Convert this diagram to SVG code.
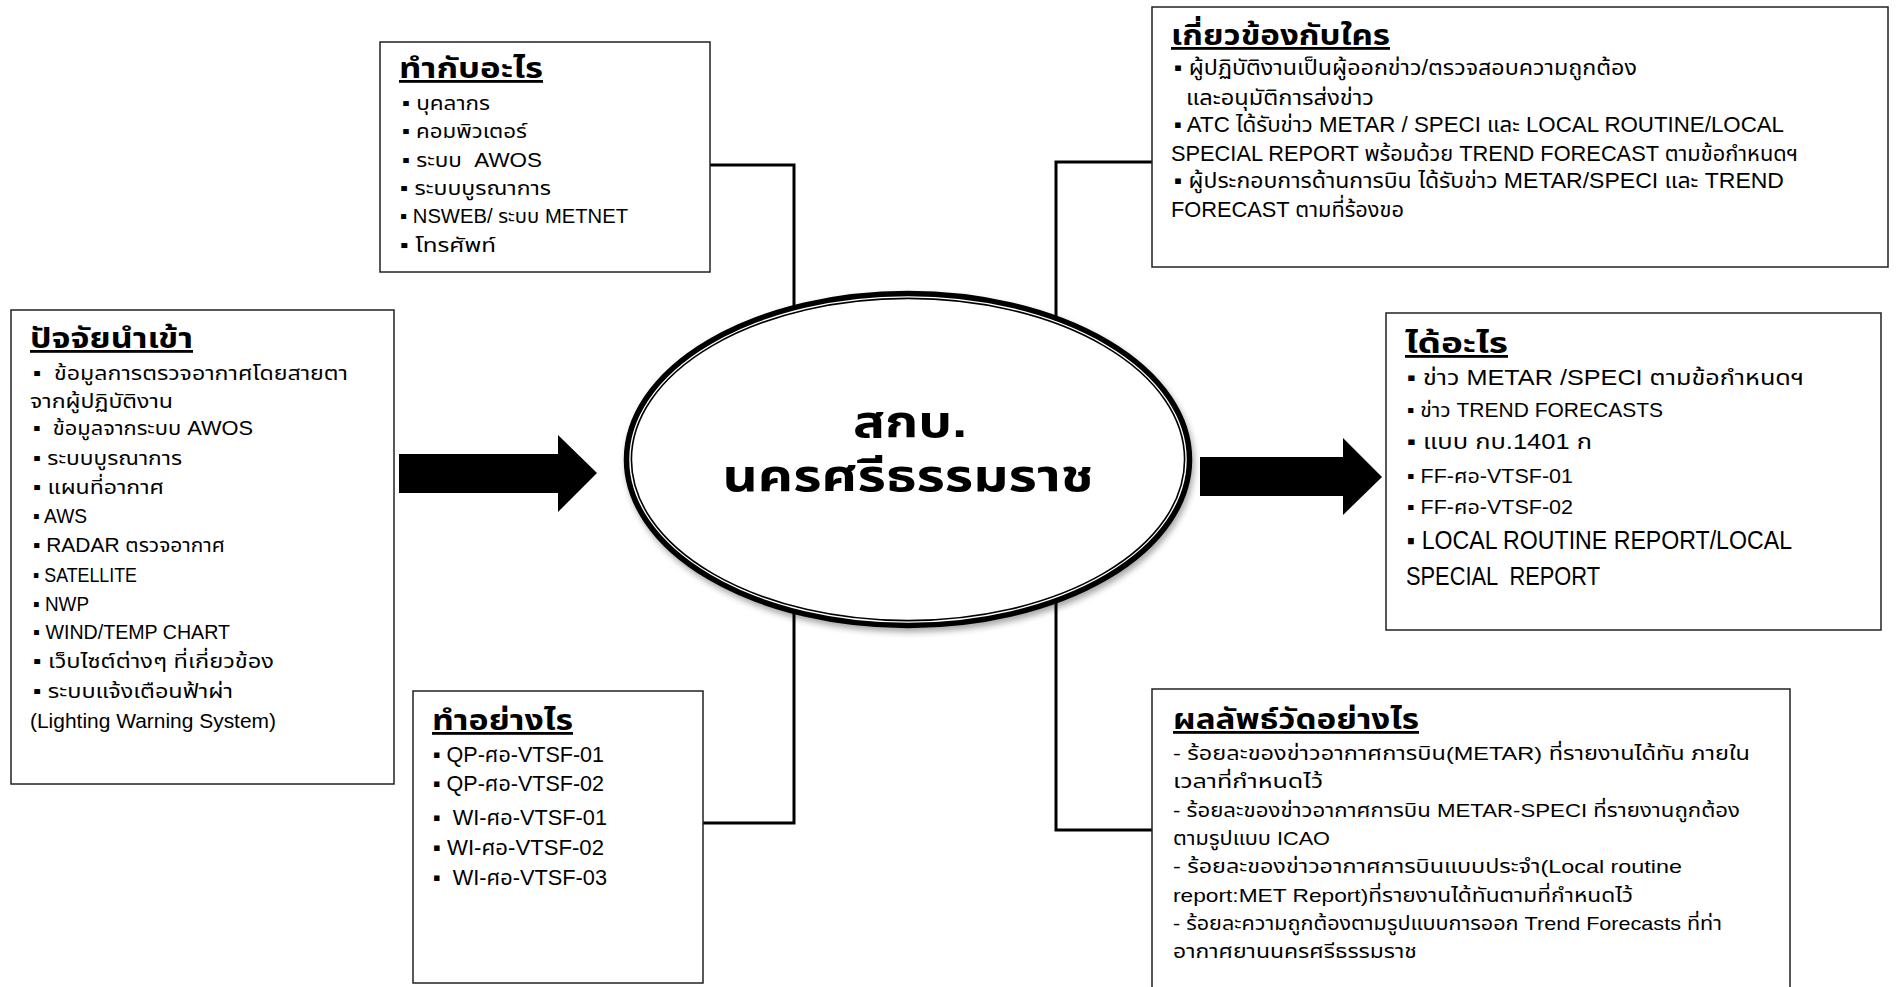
<svg xmlns="http://www.w3.org/2000/svg" width="1896" height="987" viewBox="0 0 1896 987">
<style>
.box{fill:#fff;stroke:#222;stroke-width:1.5}
text{font-family:"Liberation Sans","Noto Sans Thai","Noto Sans",sans-serif;fill:#000}
.t{font-weight:bold;font-size:28px;text-decoration:underline}
.s20{font-size:20px}
.s22{font-size:22px}
.s19{font-size:19px}
.s24{font-size:24px}
.s25{font-size:25px}
.ctr{font-weight:bold;font-size:44px;text-anchor:middle}
.con{fill:none;stroke:#000;stroke-width:3}
</style>
<defs>
<filter id="sh" x="-10%" y="-10%" width="120%" height="125%">
<feDropShadow dx="2" dy="4" stdDeviation="3" flood-color="#000" flood-opacity="0.35"/>
</filter>
</defs>
<rect width="1896" height="987" fill="#fff"/>
<g id="connectors">
<polyline class="con" points="710,165 794,165 794,400"/>
<polyline class="con" points="1152,162 1056,162 1056,400"/>
<polyline class="con" points="703,823 794,823 794,520"/>
<polyline class="con" points="1152,830 1056,830 1056,520"/>
<polygon points="399,454 558,454 558,435 597,473 558,512 558,493 399,493" fill="#000"/>
<polygon points="1200,457 1343,457 1343,438 1382,477 1343,515 1343,496 1200,496" fill="#000"/>
</g>
<g id="center">
<ellipse cx="908" cy="459.5" rx="281.5" ry="166" fill="#fff" stroke="#000" stroke-width="5.5" filter="url(#sh)"/>
<ellipse cx="908" cy="459.5" rx="276.6" ry="161.1" fill="none" stroke="#000" stroke-width="1.6"/>
<text class="ctr" x="910" y="437" textLength="114" lengthAdjust="spacingAndGlyphs">สกบ.</text>
<text class="ctr" x="908" y="491" textLength="371" lengthAdjust="spacingAndGlyphs">นครศรีธรรมราช</text>
</g>
<g id="n-what-with">
<rect class="box" x="380" y="42" width="330" height="230"/>
<text class="t" x="399" y="78" textLength="144" lengthAdjust="spacingAndGlyphs">ทำกับอะไร</text>
<text class="s20" x="402" y="110" textLength="88" lengthAdjust="spacingAndGlyphs">▪ บุคลากร</text>
<text class="s20" x="402" y="138" textLength="125" lengthAdjust="spacingAndGlyphs">▪ คอมพิวเตอร์</text>
<text class="s20" x="402" y="167" textLength="140" lengthAdjust="spacingAndGlyphs" xml:space="preserve">▪ ระบบ  AWOS</text>
<text class="s20" x="400" y="195" textLength="151" lengthAdjust="spacingAndGlyphs">▪ ระบบบูรณาการ</text>
<text class="s20" x="400" y="223" textLength="228" lengthAdjust="spacingAndGlyphs">▪ NSWEB/ ระบบ METNET</text>
<text class="s20" x="400" y="252" textLength="96" lengthAdjust="spacingAndGlyphs">▪ โทรศัพท์</text>
</g>
<g id="n-who">
<rect class="box" x="1152" y="7" width="736" height="260"/>
<text class="t" x="1171" y="45" textLength="219" lengthAdjust="spacingAndGlyphs">เกี่ยวข้องกับใคร</text>
<text class="s22" x="1174" y="75" textLength="463" lengthAdjust="spacingAndGlyphs">▪ ผู้ปฏิบัติงานเป็นผู้ออกข่าว/ตรวจสอบความถูกต้อง</text>
<text class="s22" x="1186" y="105" textLength="188" lengthAdjust="spacingAndGlyphs">และอนุมัติการส่งข่าว</text>
<text class="s22" x="1174" y="132" textLength="610" lengthAdjust="spacingAndGlyphs">▪ ATC ได้รับข่าว METAR / SPECI และ LOCAL ROUTINE/LOCAL</text>
<text class="s22" x="1171" y="161" textLength="627" lengthAdjust="spacingAndGlyphs">SPECIAL REPORT พร้อมด้วย TREND FORECAST ตามข้อกำหนดฯ</text>
<text class="s22" x="1174" y="188" textLength="610" lengthAdjust="spacingAndGlyphs">▪ ผู้ประกอบการด้านการบิน ได้รับข่าว METAR/SPECI และ TREND</text>
<text class="s22" x="1171" y="217" textLength="233" lengthAdjust="spacingAndGlyphs">FORECAST ตามที่ร้องขอ</text>
</g>
<g id="n-input">
<rect class="box" x="11" y="310" width="383" height="474"/>
<text class="t" x="30" y="348" textLength="163" lengthAdjust="spacingAndGlyphs">ปัจจัยนำเข้า</text>
<text class="s20" x="33" y="380" textLength="315" lengthAdjust="spacingAndGlyphs" xml:space="preserve">▪  ข้อมูลการตรวจอากาศโดยสายตา</text>
<text class="s20" x="30" y="408" textLength="143" lengthAdjust="spacingAndGlyphs">จากผู้ปฏิบัติงาน</text>
<text class="s20" x="33" y="435" textLength="220" lengthAdjust="spacingAndGlyphs" xml:space="preserve">▪  ข้อมูลจากระบบ AWOS</text>
<text class="s20" x="33" y="465" textLength="149" lengthAdjust="spacingAndGlyphs">▪ ระบบบูรณาการ</text>
<text class="s20" x="33" y="494" textLength="131" lengthAdjust="spacingAndGlyphs">▪ แผนที่อากาศ</text>
<text class="s20" x="33" y="523" textLength="54" lengthAdjust="spacingAndGlyphs">▪ AWS</text>
<text class="s20" x="33" y="552" textLength="192" lengthAdjust="spacingAndGlyphs">▪ RADAR ตรวจอากาศ</text>
<text class="s20" x="33" y="582" textLength="104" lengthAdjust="spacingAndGlyphs">▪ SATELLITE</text>
<text class="s20" x="33" y="611" textLength="56" lengthAdjust="spacingAndGlyphs">▪ NWP</text>
<text class="s20" x="33" y="639" textLength="197" lengthAdjust="spacingAndGlyphs">▪ WIND/TEMP CHART</text>
<text class="s20" x="33" y="668" textLength="241" lengthAdjust="spacingAndGlyphs">▪ เว็บไซต์ต่างๆ ที่เกี่ยวข้อง</text>
<text class="s20" x="33" y="698" textLength="200" lengthAdjust="spacingAndGlyphs">▪ ระบบแจ้งเตือนฟ้าผ่า</text>
<text class="s20" x="30" y="728" textLength="246" lengthAdjust="spacingAndGlyphs">(Lighting Warning System)</text>
</g>
<g id="n-how">
<rect class="box" x="413" y="691" width="290" height="292"/>
<text class="t" x="432" y="730" textLength="141" lengthAdjust="spacingAndGlyphs">ทำอย่างไร</text>
<text class="s22" x="433" y="762" textLength="171" lengthAdjust="spacingAndGlyphs">▪ QP-ศอ-VTSF-01</text>
<text class="s22" x="433" y="791" textLength="171" lengthAdjust="spacingAndGlyphs">▪ QP-ศอ-VTSF-02</text>
<text class="s22" x="433" y="825" textLength="174" lengthAdjust="spacingAndGlyphs" xml:space="preserve">▪  WI-ศอ-VTSF-01</text>
<text class="s22" x="433" y="855" textLength="171" lengthAdjust="spacingAndGlyphs">▪ WI-ศอ-VTSF-02</text>
<text class="s22" x="433" y="885" textLength="174" lengthAdjust="spacingAndGlyphs" xml:space="preserve">▪  WI-ศอ-VTSF-03</text>
</g>
<g id="n-output">
<rect class="box" x="1386" y="313" width="495" height="317"/>
<text class="t" x="1405" y="353" textLength="103" lengthAdjust="spacingAndGlyphs">ได้อะไร</text>
<text class="s22" x="1407" y="385" textLength="397" lengthAdjust="spacingAndGlyphs">▪ ข่าว METAR /SPECI ตามข้อกำหนดฯ</text>
<text class="s20" x="1407" y="417" textLength="256" lengthAdjust="spacingAndGlyphs">▪ ข่าว TREND FORECASTS</text>
<text class="s22" x="1407" y="449" textLength="185" lengthAdjust="spacingAndGlyphs">▪ แบบ กบ.1401 ก</text>
<text class="s20" x="1407" y="483" textLength="166" lengthAdjust="spacingAndGlyphs">▪ FF-ศอ-VTSF-01</text>
<text class="s20" x="1407" y="514" textLength="166" lengthAdjust="spacingAndGlyphs">▪ FF-ศอ-VTSF-02</text>
<text class="s25" x="1407" y="549" textLength="385" lengthAdjust="spacingAndGlyphs">▪ LOCAL ROUTINE REPORT/LOCAL</text>
<text class="s25" x="1406" y="585" textLength="194" lengthAdjust="spacingAndGlyphs" xml:space="preserve">SPECIAL  REPORT</text>
</g>
<g id="n-measure">
<rect class="box" x="1152" y="689" width="638" height="320"/>
<text class="t" x="1173" y="729" textLength="246" lengthAdjust="spacingAndGlyphs">ผลลัพธ์วัดอย่างไร</text>
<text class="s19" x="1173" y="760" textLength="577" lengthAdjust="spacingAndGlyphs">- ร้อยละของข่าวอากาศการบิน(METAR) ที่รายงานได้ทัน ภายใน</text>
<text class="s19" x="1173" y="788" textLength="150" lengthAdjust="spacingAndGlyphs">เวลาที่กำหนดไว้</text>
<text class="s19" x="1173" y="817" textLength="567" lengthAdjust="spacingAndGlyphs">- ร้อยละของข่าวอากาศการบิน METAR-SPECI ที่รายงานถูกต้อง</text>
<text class="s19" x="1173" y="845" textLength="157" lengthAdjust="spacingAndGlyphs">ตามรูปแบบ ICAO</text>
<text class="s19" x="1173" y="873" textLength="509" lengthAdjust="spacingAndGlyphs">- ร้อยละของข่าวอากาศการบินแบบประจำ(Local routine</text>
<text class="s19" x="1173" y="902" textLength="460" lengthAdjust="spacingAndGlyphs">report:MET Report)ที่รายงานได้ทันตามที่กำหนดไว้</text>
<text class="s19" x="1173" y="930" textLength="549" lengthAdjust="spacingAndGlyphs">- ร้อยละความถูกต้องตามรูปแบบการออก Trend Forecasts ที่ท่า</text>
<text class="s19" x="1173" y="958" textLength="244" lengthAdjust="spacingAndGlyphs">อากาศยานนครศรีธรรมราช</text>
</g>
</svg>
